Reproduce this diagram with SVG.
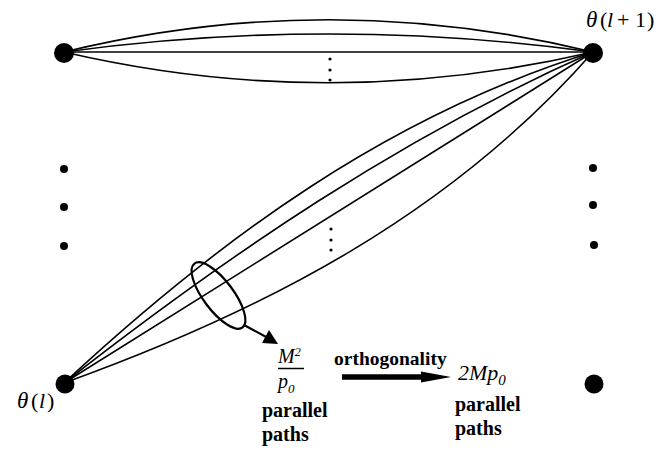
<svg xmlns="http://www.w3.org/2000/svg" width="668" height="449" viewBox="0 0 668 449">
<style>
.path{fill:none;stroke:#000;stroke-width:1.6}
.node{fill:#000}
.dot{fill:#000}
text{font-family:"Liberation Serif","DejaVu Serif",serif;fill:#000}
.it{font-style:italic}
.b{font-weight:bold}
</style>
<rect x="0" y="0" width="668" height="449" fill="#fff"/>
<g id="connectors">
  <g id="upper-bundle">
    <path class="path" d="M64,52 C240,9 417,9 593,52"/>
    <path class="path" d="M64,52 C240,28 417,28 593,52"/>
    <path class="path" d="M64,52 L593,52"/>
    <path class="path" d="M64,52 C240,93 417,93 593,52"/>
    <circle class="dot" cx="330" cy="59" r="1.6"/>
    <circle class="dot" cx="330" cy="70" r="1.6"/>
    <circle class="dot" cx="330" cy="80" r="1.6"/>
  </g>
  <g id="lower-bundle">
    <path class="path" d="M64,383 C219,239 387,116 593,52"/>
    <path class="path" d="M64,383 C229,254 401,137 593,52"/>
    <path class="path" d="M64,383 L593,52"/>
    <path class="path" d="M64,383 C264,311 450,215 593,52"/>
    <circle class="dot" cx="331" cy="229" r="1.6"/>
    <circle class="dot" cx="331" cy="240" r="1.6"/>
    <circle class="dot" cx="331" cy="250" r="1.6"/>
  </g>
  <g id="path-group-marker">
    <ellipse cx="218.5" cy="295.5" rx="40" ry="15" transform="rotate(53 218.5 295.5)" fill="none" stroke="#000" stroke-width="2.2"/>
    <line x1="244" y1="325" x2="268" y2="338" stroke="#000" stroke-width="2"/>
    <polygon points="278,344 262,343 269,330" fill="#000"/>
  </g>
  <g id="orthogonality-arrow">
    <line x1="342" y1="377" x2="426" y2="377" stroke="#000" stroke-width="5.5"/>
    <polygon points="421,371.5 451,377 421,382.5" fill="#000"/>
  </g>
</g>
<g id="node-top-left"><circle class="node" cx="64" cy="53" r="10"/></g>
<g id="node-top-right">
  <circle class="node" cx="593" cy="53" r="10"/>
  <text y="27" font-size="22"><tspan class="it" x="586" font-size="23">θ</tspan><tspan x="600">(</tspan><tspan class="it" x="607">l</tspan><tspan x="617">+</tspan><tspan x="635">1</tspan><tspan x="647">)</tspan></text>
</g>
<g id="node-bottom-left">
  <circle class="node" cx="65" cy="384" r="9.5"/>
  <text y="408" font-size="22"><tspan class="it" x="17" font-size="23">θ</tspan><tspan x="31">(</tspan><tspan class="it" x="39">l</tspan><tspan x="47">)</tspan></text>
</g>
<g id="node-bottom-right"><circle class="node" cx="594" cy="384" r="9.5"/></g>
<g id="left-ellipsis">
  <circle class="dot" cx="64" cy="169" r="4"/>
  <circle class="dot" cx="64" cy="207" r="4"/>
  <circle class="dot" cx="64" cy="246" r="4"/>
</g>
<g id="right-ellipsis">
  <circle class="dot" cx="593" cy="168" r="4"/>
  <circle class="dot" cx="593" cy="205" r="4"/>
  <circle class="dot" cx="594" cy="245" r="4"/>
</g>
<g id="label-m2-p0">
  <text class="it" x="278" y="363" font-size="20">M<tspan font-size="12" dy="-7">2</tspan></text>
  <line x1="278" y1="368.5" x2="304" y2="368.5" stroke="#000" stroke-width="1.5"/>
  <text class="it" x="278" y="388" font-size="20">p<tspan font-size="13" dy="5">0</tspan></text>
  <text class="b" x="262" y="417" font-size="20">parallel</text>
  <text class="b" x="262" y="441" font-size="20">paths</text>
</g>
<g id="label-orthogonality">
  <text class="b" x="334" y="365" font-size="19.5">orthogonality</text>
</g>
<g id="label-2mp0">
  <text class="it" x="458" y="380" font-size="22">2Mp<tspan font-size="15" dy="5">0</tspan></text>
  <text class="b" x="455" y="411" font-size="20">parallel</text>
  <text class="b" x="455" y="435" font-size="20">paths</text>
</g>
</svg>
